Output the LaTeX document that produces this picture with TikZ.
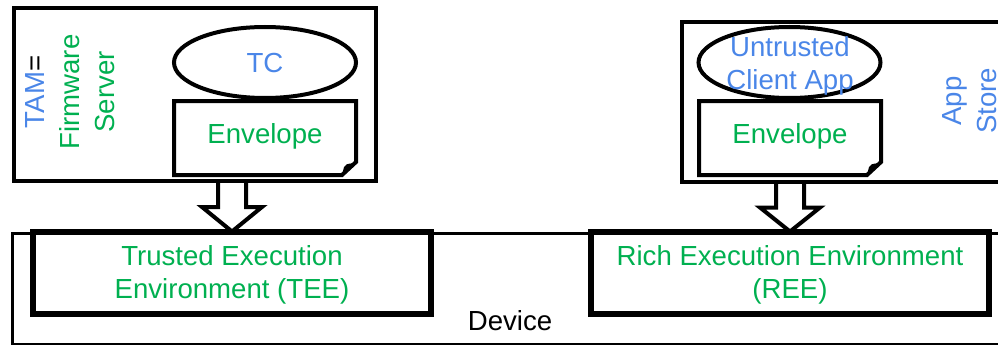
\documentclass[tikz,border=0pt]{standalone}
\usepackage{fontspec}
\setmainfont{Liberation Sans}
\usetikzlibrary{shapes.geometric,calc}
\definecolor{tblue}{HTML}{4A86E8}
\definecolor{tgreen}{HTML}{00B050}
\tikzset{
  every node/.style={font=\fontsize{27.6}{33}\selectfont, outer sep=0pt, inner sep=0pt},
  hostbox/.style={draw, line width=4pt, rectangle, minimum width=#1},
  hostbox/.default=362pt,
  appoval/.style={draw, line width=4pt, ellipse, minimum width=182pt, minimum height=71pt},
  envslot/.style={rectangle, minimum width=182pt, minimum height=74pt,
    label={[text=tgreen, yshift=2pt]center:#1}},
  envline/.style={line width=4pt, line join=miter},
  envbox/.style={draw, line width=6pt, rectangle, minimum width=398pt, minimum height=82pt,
    label={[align=center, text=tgreen, yshift=-2pt]center:#1}},
  devbox/.style={draw, line width=3pt, rectangle},
  pusharrow/.style={draw, line width=4pt, line join=miter},
  sidetext/.style={rotate=90, align=center, font=\fontsize{27.6}{35}\selectfont}
}
\begin{document}
\begin{tikzpicture}[x=1pt, y=-1pt]
\useasboundingbox (0,0) rectangle (998,345);
\clip (0,0) rectangle (998,345);

% device with its two execution environments
\node[devbox, minimum width=1007pt, minimum height=111pt] (dev) at (516,288.5) {};
\node (devtext) at (510,321) {Device};
\node[envbox={Trusted Execution\\Environment (TEE)}] (tee) at (232,272.5) {};
\node[envbox={Rich Execution Environment\\(REE)}] (ree) at (790,272.5) {};

% servers
\node[hostbox, minimum height=173pt] (tam) at (195,94.5) {};
\node[hostbox=338pt, minimum height=159pt] (store) at (851,102) {};

% delivery arrows
\foreach \src/\dst in {tam/tee, store/ree} {
  \draw[pusharrow] let \p1=(\dst.north), \p2=(\dst.north |- \src.south) in
    (\x1-14pt,\y2) -- (\x1-14pt,\y2-26pt) -- (\x1-30pt,\y2-26pt) -- (\x1,\y1)
    -- (\x1+30pt,\y2-26pt) -- (\x1+14pt,\y2-26pt) -- (\x1+14pt,\y2);
}
\draw[line width=4pt] (tam.south west) -- (tam.south east);
\draw[line width=4pt] (store.south west) -- (store.south east);

% server labels
\node[sidetext] (tamtext) at (70,92)
  {\textcolor{tblue}{TAM}=\\\textcolor{tgreen}{Firmware}\\\textcolor{tgreen}{Server}};
\node[sidetext, text=tblue] (storetext) at (970,101) {App\\Store};

% payloads
\node[appoval] (tc) at (265,62.5) {};
\node[text=tblue] (tctext) at (265,62.5) {TC};
\node[appoval] (uca) at (789.5,62.5) {};
\node[text=tblue, align=center] (ucatext) at (790,66) {Untrusted\\Client App};

\node[envslot=Envelope] (env1) at (265,138) {};
\node[envslot=Envelope] (env2) at (790,138) {};
\foreach \e in {env1, env2} {
  \draw[envline] (\e.north west) -- (\e.north east) -- ([yshift=13pt]\e.south east)
    -- ([xshift=-14pt]\e.south east) -- (\e.south west) -- cycle;
  \fill ([yshift=13pt]\e.south east) -- ([xshift=-14pt]\e.south east)
    -- ([xshift=-12pt,yshift=8pt]\e.south east)
    .. controls ([xshift=-10pt,yshift=11pt]\e.south east) .. ([xshift=-1pt,yshift=12pt]\e.south east) -- cycle;
}
\end{tikzpicture}
\end{document}
